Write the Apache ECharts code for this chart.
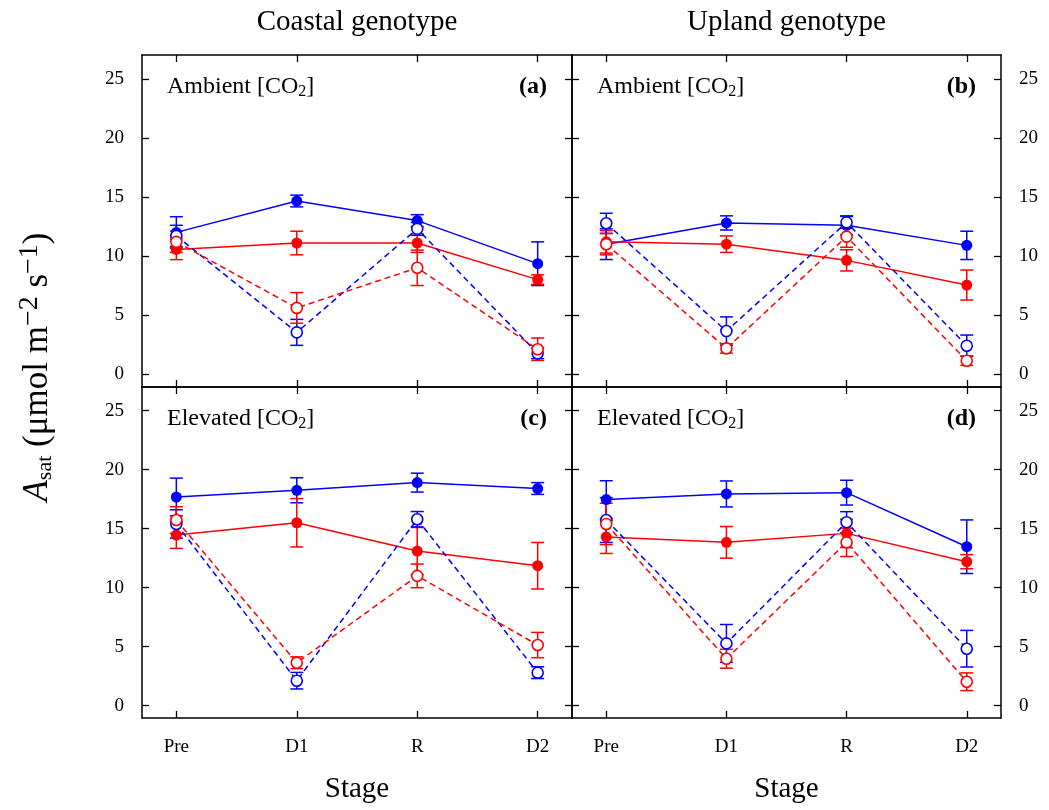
<!DOCTYPE html>
<html><head><meta charset="utf-8">
<script src="https://cdn.jsdelivr.net/npm/echarts@6/dist/echarts.min.js"></script>
<style>html,body{margin:0;padding:0;background:#fff}#c{width:1049px;height:810px}</style>
</head><body><div id="c"></div>
<script>
const stages = ['Pre', 'D1', 'R', 'D2'];
const stageX = [0, 1, 2, 3];
const yTicks = [0, 5, 10, 15, 20, 25];
const genotypes = ['Coastal genotype', 'Upland genotype'];
const panelTags = ['(a)', '(b)', '(c)', '(d)'];
const co2Labels = ['Ambient', 'Ambient', 'Elevated', 'Elevated'];

// Panel (a) Coastal, ambient CO2
const aBlueFilled = [12.0, 14.66, 13.0, 9.35];
const aBlueFilledErr = [1.33, 0.5, 0.5, 1.85];
const aRedFilled = [10.56, 11.1, 11.1, 8.0];
const aRedFilledErr = [0.87, 1.0, 0.8, 0.4];
const aBlueOpen = [11.7, 3.53, 12.3, 1.75];
const aBlueOpenErr = [0.9, 1.1, 0.55, 0.45];
const aRedOpen = [11.2, 5.6, 9.0, 2.1];
const aRedOpenErr = [0.9, 1.3, 1.5, 0.95];

// Panel (b) Upland, ambient CO2
const bBlueFilled = [11.0, 12.8, 12.6, 10.9];
const bBlueFilledErr = [1.3, 0.6, 0.8, 1.2];
const bRedFilled = [11.2, 11.0, 9.63, 7.54];
const bRedFilledErr = [0.95, 0.7, 0.9, 1.27];
const bBlueOpen = [12.77, 3.64, 12.85, 2.4];
const bBlueOpenErr = [0.85, 1.2, 0.5, 0.9];
const bRedOpen = [11.0, 2.17, 11.64, 1.13];
const bRedOpenErr = [0.9, 0.4, 0.9, 0.4];

// Panel (c) Coastal, elevated CO2
const cBlueFilled = [17.68, 18.25, 18.9, 18.4];
const cBlueFilledErr = [1.6, 1.06, 0.8, 0.5];
const cRedFilled = [14.46, 15.5, 13.1, 11.86];
const cRedFilledErr = [1.13, 2.05, 2.0, 1.97];
const cBlueOpen = [15.4, 2.12, 15.8, 2.8];
const cBlueOpenErr = [1.2, 0.7, 0.65, 0.5];
const cRedOpen = [15.73, 3.64, 11.0, 5.14];
const cRedOpenErr = [1.13, 0.5, 1.0, 1.07];

// Panel (d) Upland, elevated CO2
const dBlueFilled = [17.46, 17.94, 18.05, 13.47];
const dBlueFilledErr = [1.6, 1.1, 1.05, 2.27];
const dRedFilled = [14.3, 13.84, 14.6, 12.2];
const dRedFilledErr = [1.4, 1.34, 1.2, 0.6];
const dBlueOpen = [15.73, 5.28, 15.54, 4.83];
const dBlueOpenErr = [1.9, 1.6, 0.9, 1.55];
const dRedOpen = [15.4, 3.98, 13.84, 2.03];
const dRedOpenErr = [1.75, 0.8, 1.2, 0.75];

const BLUE = '#0000ff', RED = '#ff0000';
const FONT = '"Liberation Serif", "Times New Roman", serif';

const panels = [
  [[aBlueFilled, aBlueFilledErr, BLUE, true], [aRedFilled, aRedFilledErr, RED, true], [aBlueOpen, aBlueOpenErr, BLUE, false], [aRedOpen, aRedOpenErr, RED, false]],
  [[bBlueFilled, bBlueFilledErr, BLUE, true], [bRedFilled, bRedFilledErr, RED, true], [bBlueOpen, bBlueOpenErr, BLUE, false], [bRedOpen, bRedOpenErr, RED, false]],
  [[cBlueFilled, cBlueFilledErr, BLUE, true], [cRedFilled, cRedFilledErr, RED, true], [cBlueOpen, cBlueOpenErr, BLUE, false], [cRedOpen, cRedOpenErr, RED, false]],
  [[dBlueFilled, dBlueFilledErr, BLUE, true], [dRedFilled, dRedFilledErr, RED, true], [dBlueOpen, dBlueOpenErr, BLUE, false], [dRedOpen, dRedOpenErr, RED, false]]
];

const grids = [
  {left: 142, top: 55, width: 430, height: 332},
  {left: 572, top: 55, width: 429, height: 332},
  {left: 142, top: 387, width: 430, height: 331},
  {left: 572, top: 387, width: 429, height: 331}
];
const yRanges = [[-1.1, 27.03], [-1.1, 27.03], [-1.04, 27.0], [-1.04, 27.0]];

const lineSt = {color: '#000', width: 1.5};
const tickSt = {color: '#000', width: 1.3};

const xAxes = [], yAxes = [], series = [];
grids.forEach((g, i) => {
  ['bottom', 'top'].forEach(pos => {
    xAxes.push({
      type: 'value', gridIndex: i, position: pos, min: -0.285, max: 3.285,
      axisLine: {show: true, onZero: false, lineStyle: lineSt},
      axisTick: {show: true, inside: true, length: 7, customValues: stageX, lineStyle: tickSt},
      axisLabel: {show: pos === 'bottom' && i >= 2, customValues: stageX, margin: 20,
        formatter: v => stages[Math.round(v)], fontFamily: FONT, fontSize: 19, color: '#000'},
      splitLine: {show: false}
    });
  });
  ['left', 'right'].forEach(pos => {
    const showLab = (pos === 'left' && i % 2 === 0) || (pos === 'right' && i % 2 === 1);
    yAxes.push({
      type: 'value', gridIndex: i, position: pos, min: yRanges[i][0], max: yRanges[i][1],
      axisLine: {show: true, onZero: false, lineStyle: lineSt},
      axisTick: {show: true, inside: true, length: 7, customValues: yTicks, lineStyle: tickSt},
      axisLabel: {show: showLab, customValues: yTicks, margin: 18, fontFamily: FONT, fontSize: 19, color: '#000'},
      splitLine: {show: false}
    });
  });
});

function errRender(params, api) {
  const x = api.value(0), y = api.value(1), e = api.value(2);
  const t = api.coord([x, y + e]);
  const b = api.coord([x, y - e]);
  const w = 6.5;
  const st = {stroke: api.visual('color'), lineWidth: 1.5, fill: null};
  return {type: 'group', children: [
    {type: 'line', shape: {x1: t[0], y1: t[1], x2: b[0], y2: b[1]}, style: st},
    {type: 'line', shape: {x1: t[0] - w, y1: t[1], x2: t[0] + w, y2: t[1]}, style: st},
    {type: 'line', shape: {x1: b[0] - w, y1: b[1], x2: b[0] + w, y2: b[1]}, style: st}
  ]};
}

panels.forEach((ser, i) => {
  ser.forEach(([vals, errs, col, filled]) => {
    series.push({
      type: 'custom', xAxisIndex: 2 * i, yAxisIndex: 2 * i, renderItem: errRender,
      itemStyle: {color: col}, z: 2, silent: true, clip: false,
      data: vals.map((v, k) => [stageX[k], v, errs[k]])
    });
  });
  ser.forEach(([vals, errs, col, filled]) => {
    series.push({
      type: 'line', xAxisIndex: 2 * i, yAxisIndex: 2 * i, z: 3, silent: true,
      symbol: 'circle', symbolSize: 11, showSymbol: true,
      lineStyle: {color: col, width: 1.5, type: filled ? 'solid' : [6, 4]},
      itemStyle: filled ? {color: col, borderWidth: 0} : {color: '#fff', borderColor: col, borderWidth: 1.6},
      data: vals.map((v, k) => [stageX[k], v])
    });
  });
});

const graphics = [];
genotypes.forEach((t, j) => {
  const cx = j === 0 ? 357 : 786.5;
  graphics.push({type: 'text', x: cx, y: 22, style: {text: t, font: '29px ' + FONT, fill: '#000', align: 'center', verticalAlign: 'middle'}});
  graphics.push({type: 'text', x: cx, y: 789, style: {text: 'Stage', font: '29px ' + FONT, fill: '#000', align: 'center', verticalAlign: 'middle'}});
});
grids.forEach((g, i) => {
  const cy = g.top + 32;
  graphics.push({type: 'text', x: g.left + 25, y: cy, style: {
    text: '{n|' + co2Labels[i] + ' [CO}{s|2}{n|]}', align: 'left', verticalAlign: 'middle',
    rich: {n: {fontFamily: FONT, fontSize: 24, color: '#000'}, s: {fontFamily: FONT, fontSize: 16, color: '#000', padding: [9, 0, 0, 0]}}
  }});
  graphics.push({type: 'text', x: g.left + g.width - 25, y: cy, style: {
    text: panelTags[i], font: 'bold 24px ' + FONT, fill: '#000', align: 'right', verticalAlign: 'middle'}});
});
graphics.push({type: 'text', x: 38, y: 367, rotation: Math.PI / 2, style: {
  text: '{a|A}{s|sat}{n| (μmol m}{p|−2}{n| s}{p|−1}{n|)}', align: 'center', verticalAlign: 'middle',
  rich: {
    a: {fontFamily: FONT, fontSize: 35, fontStyle: 'italic', color: '#000'},
    s: {fontFamily: FONT, fontSize: 22, color: '#000', padding: [15, 0, 0, 0]},
    n: {fontFamily: FONT, fontSize: 35, color: '#000'},
    p: {fontFamily: FONT, fontSize: 28, color: '#000', padding: [0, 0, 17, 0]}
  }
}});

const chart = echarts.init(document.getElementById('c'), null, {renderer: 'canvas'});
chart.setOption({
  animation: false,
  backgroundColor: '#fff',
  grid: grids.map(g => Object.assign({containLabel: false}, g)),
  xAxis: xAxes,
  yAxis: yAxes,
  series: series,
  graphic: graphics
});
</script></body></html>
